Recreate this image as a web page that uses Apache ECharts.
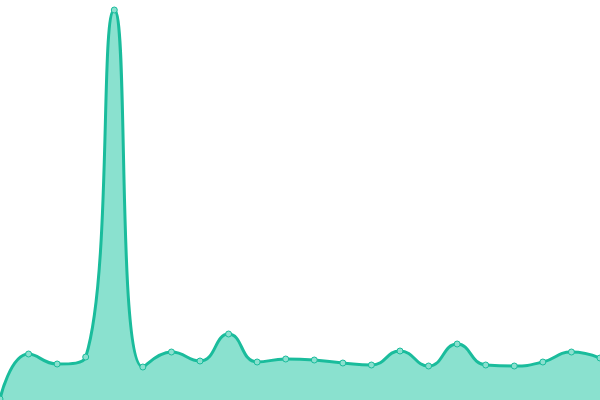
<!DOCTYPE html>
<html>
<head>
<meta charset="utf-8">
<script src="https://cdn.jsdelivr.net/npm/echarts@6/dist/echarts.min.js"></script>
<style>
  html, body { margin: 0; padding: 0; background: #fff; }
  #main { width: 600px; height: 400px; }
</style>
</head>
<body>
<div id="main"></div>
<script>
// 数据
var categories = ['1', '2', '3', '4', '5', '6', '7', '8', '9', '10', '11',
    '12', '13', '14', '15', '16', '17', '18', '19', '20', '21', '22'];
var values = [1, 46, 36, 43, 390, 33, 48, 39, 66, 38, 41,
    40, 37, 35, 49, 34, 56, 35, 34, 38, 48, 42];

var myChart = echarts.init(document.getElementById('main'));

var option = {
    animation: false,
    backgroundColor: '#fff',
    grid: { left: 0, right: 0, top: 0, bottom: 0 },
    xAxis: {
        type: 'category',
        boundaryGap: false,
        data: categories,
        show: false
    },
    yAxis: {
        type: 'value',
        min: 0,
        max: 400,
        show: false
    },
    series: [{
        type: 'line',
        smooth: true,
        data: values,
        symbol: 'circle',
        symbolSize: 6,
        lineStyle: { color: '#1abc9c', width: 3 },
        itemStyle: { color: '#8be0cf', borderColor: '#1abc9c', borderWidth: 1 },
        areaStyle: { color: '#8ae1cf', opacity: 1 }
    }]
};

myChart.setOption(option);
</script>
</body>
</html>
